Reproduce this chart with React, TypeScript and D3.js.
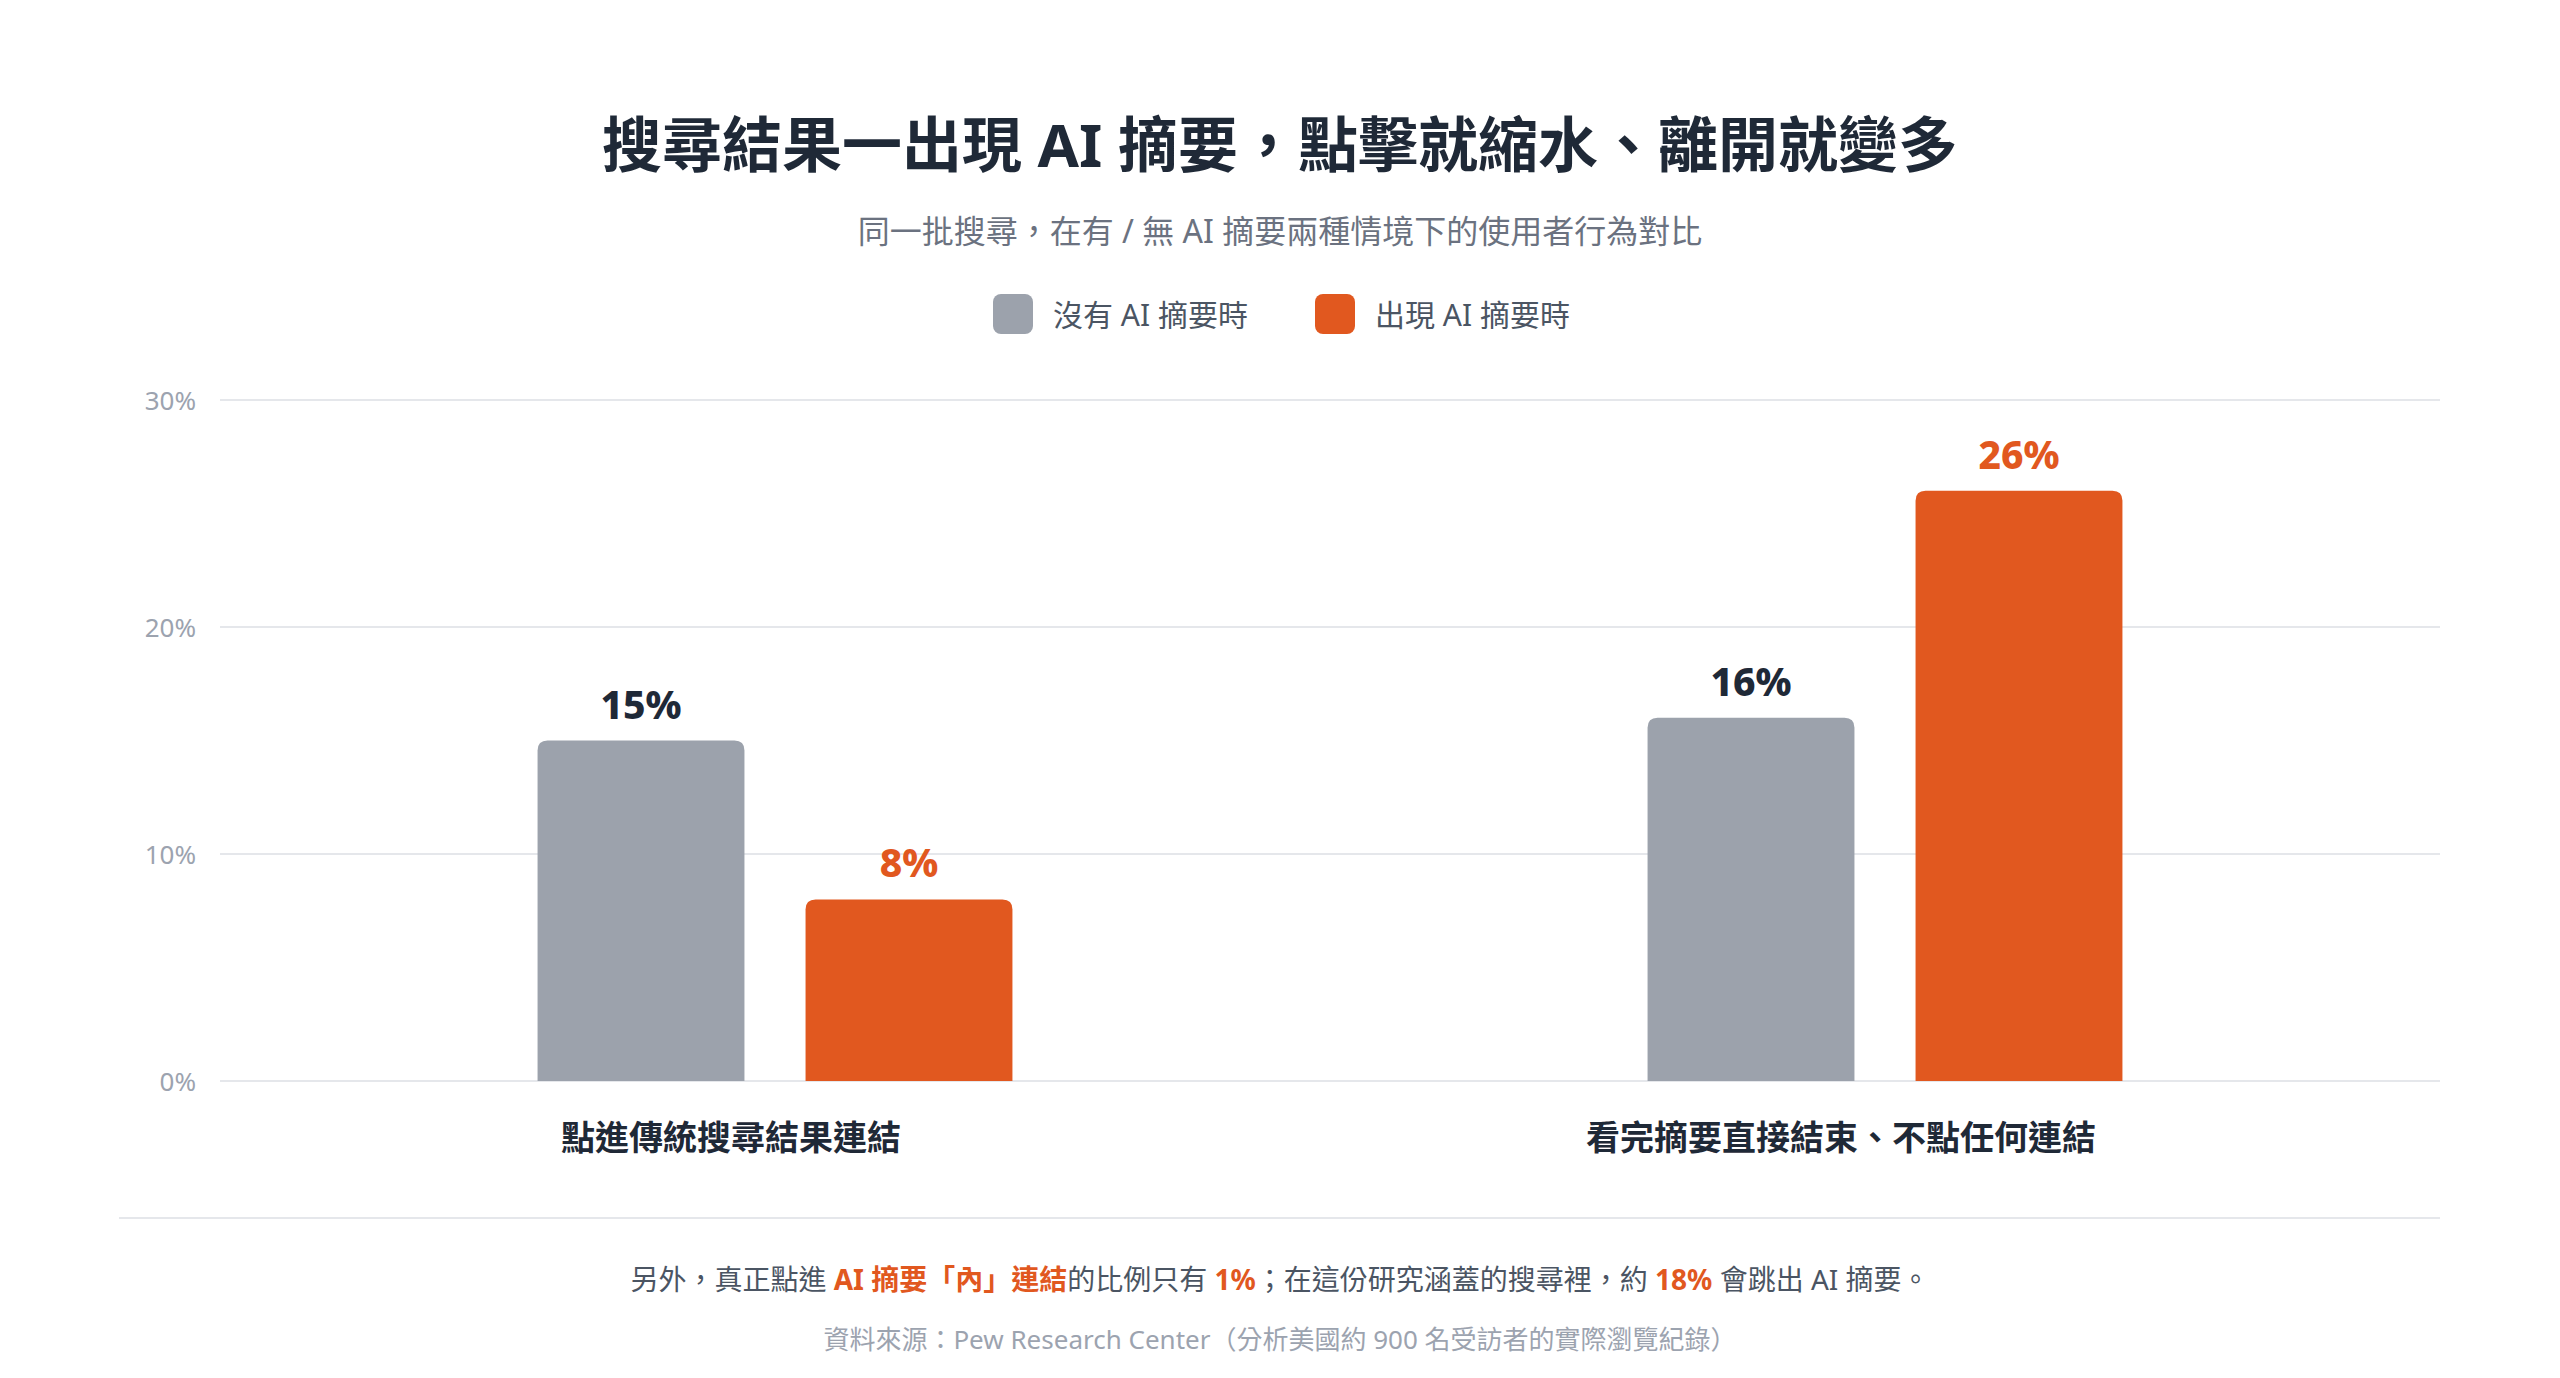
import { useMemo } from 'react';
import * as d3 from 'd3';

const categories = ['點進傳統搜尋結果連結', '看完摘要直接結束、不點任何連結'];
const seriesNames = ['沒有 AI 摘要時', '出現 AI 摘要時'];
const withoutAI = [15, 16];
const withAI = [8, 26];
const yTicks = [0, 10, 20, 30];

const W = 2560;
const H = 1378;
const FONT = '"Noto Sans", "Noto Sans CJK TC", sans-serif';
const GRAY = '#9ca2ac';
const ORANGE = '#e1581f';
const DARK = '#1f2937';

const margin = { top: 400, right: 120, bottom: 297, left: 220 };

// top-rounded bar path
const barPath = (x: number, y: number, w: number, h: number, r: number) => {
    const rr = Math.min(r, h, w / 2);
    return `M${x},${y + h}V${y + rr}Q${x},${y} ${x + rr},${y}H${x + w - rr}Q${x + w},${y} ${x + w},${y + rr}V${y + h}Z`;
};

const App: React.FC = () => {
    const { x0, x1, y } = useMemo(() => {
        const x0 = d3.scaleBand()
            .domain(categories)
            .range([margin.left, W - margin.right])
            .padding(0);
        const x1 = d3.scaleBand()
            .domain(seriesNames)
            .range([0, x0.bandwidth()])
            .paddingInner(0.228)
            .paddingOuter(1.185);
        const y = d3.scaleLinear()
            .domain([0, 30])
            .range([H - margin.bottom, margin.top]);
        return { x0, x1, y };
    }, []);

    const series = [
        { name: seriesNames[0], values: withoutAI, color: GRAY, label: DARK },
        { name: seriesNames[1], values: withAI, color: ORANGE, label: ORANGE },
    ];

    const legendStart = 993;
    const legendStep = 322;

    return (
        <>
            <style>{`body{margin:0;}`}</style>
            <svg width={W} height={H} style={{ display: 'block', background: '#fff', fontFamily: FONT }}>
                <text x={W / 2} y={144} textAnchor="middle" dominantBaseline="central"
                    fontSize={60} fontWeight={700} fill={DARK}>
                    搜尋結果一出現 AI 摘要，點擊就縮水、離開就變多
                </text>
                <text x={W / 2} y={230} textAnchor="middle" dominantBaseline="central"
                    fontSize={32} fill="#6b7280">
                    同一批搜尋，在有 / 無 AI 摘要兩種情境下的使用者行為對比
                </text>

                {series.map((s, i) => (
                    <g key={s.name} transform={`translate(${legendStart + i * legendStep},314)`}>
                        <rect x={0} y={-20} width={40} height={40} rx={8} fill={s.color} />
                        <text x={60} y={0} dominantBaseline="central" fontSize={30} fill="#4b5563">{s.name}</text>
                    </g>
                ))}

                {yTicks.map(t => (
                    <g key={t}>
                        <line x1={margin.left} x2={W - margin.right} y1={y(t)} y2={y(t)} stroke="#e5e7eb" strokeWidth={2} />
                        <text x={196} y={y(t)} textAnchor="end" dominantBaseline="central" fontSize={26} fill="#9ca3af">
                            {`${t}%`}
                        </text>
                    </g>
                ))}

                {categories.map((c, ci) => (
                    <g key={c} transform={`translate(${x0(c)},0)`}>
                        {series.map(s => {
                            const bx = x1(s.name)!;
                            const v = s.values[ci];
                            return (
                                <g key={s.name}>
                                    <path d={barPath(bx, y(v), x1.bandwidth(), y(0) - y(v), 10)} fill={s.color} />
                                    <text x={bx + x1.bandwidth() / 2} y={y(v) - 22} textAnchor="middle"
                                        fontSize={39} fontWeight={800} fill={s.label}>
                                        {`${v}%`}
                                    </text>
                                </g>
                            );
                        })}
                        <text x={x0.bandwidth() / 2 - 44} y={1137} textAnchor="middle" dominantBaseline="central"
                            fontSize={34} fontWeight={700} fill="#1f2937">
                            {c}
                        </text>
                    </g>
                ))}

                <line x1={119} x2={W - margin.right} y1={1218} y2={1218} stroke="#e5e7eb" strokeWidth={2} />

                <text x={W / 2} y={1279} textAnchor="middle" dominantBaseline="central" fontSize={28} fill="#4b5563">
                    另外，真正點進 <tspan fill={ORANGE} fontWeight={700}>AI 摘要「內」連結</tspan>的比例只有 <tspan fill={ORANGE} fontWeight={700}>1%</tspan>；在這份研究涵蓋的搜尋裡，約 <tspan fill={ORANGE} fontWeight={700}>18%</tspan> 會跳出 AI 摘要。
                </text>
                <text x={W / 2} y={1339} textAnchor="middle" dominantBaseline="central" fontSize={26} fill="#9ca3af">
                    資料來源：Pew Research Center（分析美國約 900 名受訪者的實際瀏覽紀錄）
                </text>
            </svg>
        </>
    );
};

export default App;
